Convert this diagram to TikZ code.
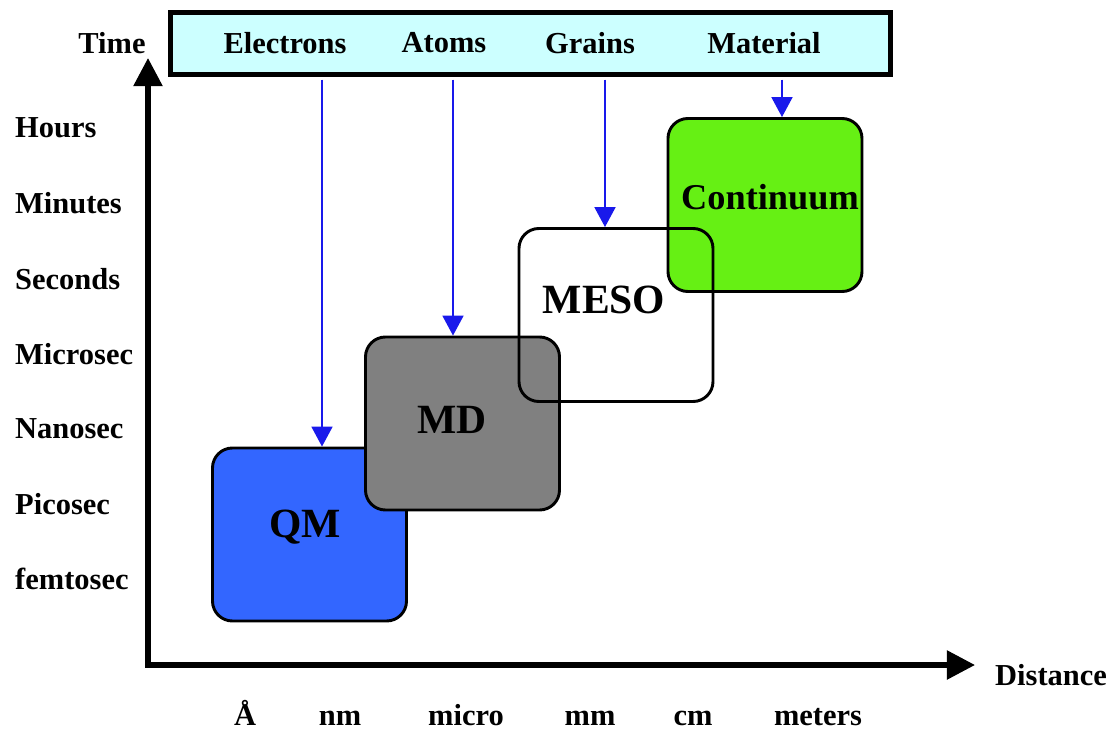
\documentclass[tikz,border=0pt]{standalone}
\usepackage{fontspec}
\setmainfont{Liberation Serif}
\usetikzlibrary{arrows.meta,calc}
\definecolor{barcyan}{RGB}{204,255,255}
\definecolor{qmblue}{RGB}{51,102,255}
\definecolor{mdgray}{RGB}{128,128,128}
\definecolor{contgreen}{RGB}{102,240,20}
\definecolor{feedblue}{RGB}{25,25,235}

\begin{document}
\begin{tikzpicture}[
    x=0.03cm, y=-0.03cm,
    lab/.style={font=\fontsize{26}{30}\selectfont\bfseries, inner sep=0pt},
    big/.style={font=\fontsize{35.5}{40}\selectfont\bfseries, inner sep=0pt},
    scalebox/.style={draw=black, line width=2.5pt, rounded corners=17pt, minimum width=5.82cm, minimum height=5.19cm, inner sep=0pt},
    axis/.style={line width=4.5pt, line join=miter, {Triangle[length=24pt,width=24pt]}-{Triangle[length=24pt,width=24pt]}},
    feed/.style={draw=feedblue, line width=1.2pt, shorten <=2.2pt, -{Triangle[length=17pt,width=18pt]}}
  ]
    \useasboundingbox (0,0) rectangle (1111,732);

    % axes
    \coordinate (origin) at (148,665);
    \coordinate (ytip) at (148,58);
    \coordinate (xtip) at (975,665);
    \draw[axis] (ytip) -- (origin) -- (xtip);
    \node[lab] (time) at (112,43) {Time};
    \node[lab, anchor=west] (dist) at (995,675) {Distance};

    % time scale
    \foreach \t/\y in {Hours/128, Minutes/203, Seconds/279, Microsec/354, Nanosec/429, Picosec/504, femtosec/579}
      \node[lab, anchor=west] (t\y) at (15,\y) {\t};

    % length scale
    \node[lab, anchor=base] (angstrom) at (245,725) {Å};
    \node[lab, anchor=base] (nm) at (340,725) {nm};
    \node[lab, anchor=base] (micro) at (466,725) {micro};
    \node[lab, anchor=base] (mm) at (590,725) {mm};
    \node[lab, anchor=base] (cm) at (693,725) {cm};
    \node[lab, anchor=base] (meters) at (818,725) {meters};

    % the four models
    \node[scalebox, fill=qmblue] (qm) at (309.5,534.5) {};
    \node[scalebox, fill=mdgray] (md) at (462.5,423.5) {};
    \node[scalebox, fill=contgreen] (cont) at (765,205) {};
    \node[scalebox] (meso) at (616,315) {};
    \node[big] (qmlab) at (305,527) {QM};
    \node[big] (mdlab) at (452,420) {MD};
    \node[big] (mesolab) at (604,300) {MESO};
    \node[font=\fontsize{31}{35}\selectfont\bfseries, inner sep=0pt] (contlab) at (770,197) {Continuum};

    % what each one resolves
    \node[draw=black, line width=4.25pt, fill=barcyan, minimum width=21.6cm, minimum height=1.86cm, inner sep=0pt] (bar) at (530.5,43.5) {};
    \node[lab] (electrons) at (285,43) {Electrons};
    \node[lab] (atoms) at (444,43) {Atoms};
    \node[lab] (grains) at (590,43) {Grains};
    \node[lab] (material) at (764,43) {Material};

    \coordinate (e0) at (322,0);
    \coordinate (a0) at (453,0);
    \coordinate (g0) at (605,0);
    \coordinate (m0) at (782,0);
    \draw[feed] (bar.south -| e0) -- (qm.north -| e0);
    \draw[feed] (bar.south -| a0) -- (md.north -| a0);
    \draw[feed] (bar.south -| g0) -- (meso.north -| g0);
    \draw[feed] (bar.south -| m0) -- (cont.north -| m0);
  \end{tikzpicture}
\end{document}
